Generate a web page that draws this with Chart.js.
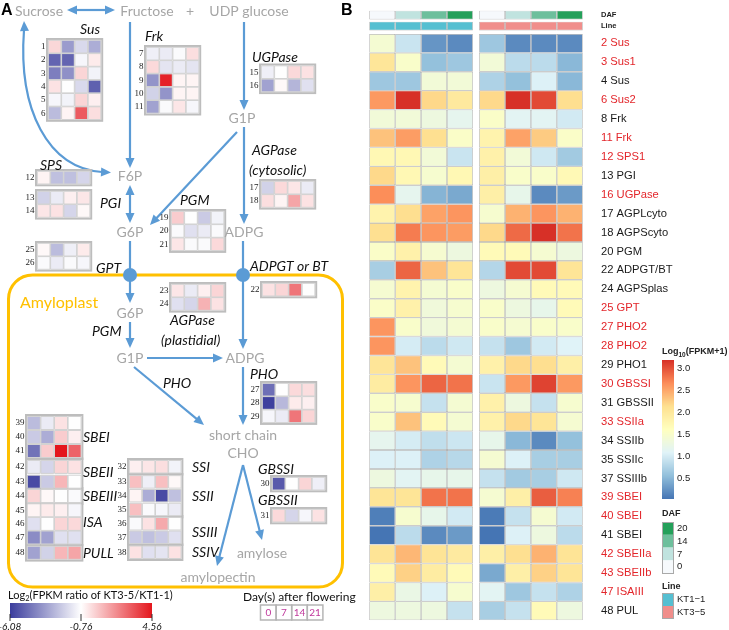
<!DOCTYPE html>
<html>
<head>
<meta charset="utf-8">
<script src="https://cdn.jsdelivr.net/npm/chart.js@4.4.0/dist/chart.umd.min.js"></script>
<style>
  html, body { margin: 0; padding: 0; background: #fff; }
  #wrap { position: relative; width: 729px; height: 630px; }
  #wrap canvas { position: absolute; left: 0; top: 0; }
</style>
</head>
<body>
<div id="wrap">
  <canvas id="pathway" width="729" height="630"></canvas>
  <canvas id="heat" width="729" height="630"></canvas>
</div>
<script>
// ---------- panel B data: log10(FPKM+1) ----------
const geneLabels = ['2 Sus', '3 Sus1', '4 Sus', '6 Sus2', '8 Frk', '11 Frk', '12 SPS1', '13 PGI',
  '16 UGPase', '17 AGPLcyto', '18 AGPScyto', '20 PGM', '22 ADPGT/BT', '24 AGPSplas', '25 GPT',
  '27 PHO2', '28 PHO2', '29 PHO1', '30 GBSSI', '31 GBSSII', '33 SSIIa', '34 SSIIb', '35 SSIIc',
  '37 SSIIIb', '39 SBEI', '40 SBEI', '41 SBEI', '42 SBEIIa', '43 SBEIIb', '47 ISAIII', '48 PUL'];
// 1 = label printed in red
const highlighted = [1,1,0,1,0,1,1,0,1,0,0,0,0,0,1,1,1,0,1,0,1,0,0,0,1,1,0,1,1,1,0];
const dafDays = [0, 7, 14, 21];
const dafLegendTicks = [20, 14, 7, 0];
const lineNames = ['KT1\u22121', 'KT3\u22125'];

// KT1-1, DAF 0 / 7 / 14 / 21
const kt1Values = [
  [1.42, 0.92, 0.25, 0.17], [2.03, 1.50, 0.57, 0.63], [0.63, 0.63, 1.38, 1.38], [2.58, 3.18, 2.18, 1.97],
  [1.37, 1.37, 1.30, 1.17], [2.32, 2.55, 2.12, 1.52], [1.72, 1.72, 1.38, 0.92], [2.17, 1.72, 1.45, 1.72],
  [2.65, 1.17, 0.47, 0.39], [1.80, 2.13, 2.52, 2.60], [2.12, 2.75, 2.60, 2.56], [1.52, 1.83, 1.44, 1.30],
  [0.70, 2.88, 2.32, 2.05], [1.43, 1.80, 1.42, 1.50], [1.52, 1.83, 1.35, 1.45], [2.60, 1.50, 1.35, 1.42],
  [2.60, 1.00, 0.83, 0.96], [2.04, 2.32, 1.68, 1.42], [1.93, 2.60, 2.88, 2.80], [1.50, 1.45, 0.89, 1.42],
  [1.50, 2.32, 1.68, 1.42], [1.17, 1.00, 0.86, 0.94], [1.05, 1.05, 0.74, 0.80], [1.30, 1.12, 1.20, 1.20],
  [2.05, 2.05, 2.80, 2.80], [0.09, 1.45, 1.20, 0.98], [0.02, 0.83, 0.17, 0.28], [2.06, 2.39, 2.06, 1.95],
  [1.68, 2.22, 1.93, 1.68], [1.87, 1.25, 1.05, 1.45], [1.30, 1.30, 1.30, 0.89]
];
// KT3-5, DAF 0 / 7 / 14 / 21
const kt3Values = [
  [0.63, 0.17, 0.17, 0.17], [1.38, 0.83, 0.83, 0.50], [0.74, 0.57, 1.05, 0.50], [2.17, 3.18, 3.03, 2.13],
  [1.52, 1.12, 1.12, 0.98], [1.80, 2.52, 2.26, 1.52], [1.83, 1.38, 0.96, 0.66], [1.87, 1.50, 1.50, 1.70],
  [1.87, 1.20, 0.17, 0.28], [1.45, 2.42, 2.60, 2.42], [2.17, 2.85, 3.18, 2.80], [1.68, 1.68, 1.43, 1.30],
  [0.78, 3.03, 3.03, 2.05], [1.30, 1.43, 1.68, 1.68], [1.50, 1.30, 1.20, 1.68], [1.50, 1.43, 1.50, 1.50],
  [0.89, 0.63, 0.98, 1.07], [1.83, 2.17, 2.13, 1.87], [0.92, 2.58, 3.07, 2.58], [1.83, 1.30, 0.89, 1.45],
  [1.83, 2.17, 2.05, 1.43], [1.20, 0.50, 0.17, 0.57], [1.43, 1.05, 0.70, 0.70], [0.89, 0.66, 0.70, 0.96],
  [1.43, 1.87, 2.92, 2.72], [0.06, 0.89, 1.43, 0.98], [0.02, 1.05, 1.30, 0.83], [1.87, 2.12, 2.42, 2.06],
  [0.39, 1.87, 2.22, 2.05], [1.12, 0.63, 0.89, 0.74], [0.70, 0.89, 1.68, 1.30]
];

// ---------- panel A data: log2(FPKM ratio KT3-5/KT1-1), genes 1..48, DAF 0 / 7 / 14 / 21 ----------
const ratioValues = [
  [0.15, -3.5, -1.8, -3.0], [-5.0, -5.0, -1.0, -0.3], [-4.3, -3.8, 0.2, -1.1], [-0.1, -0.8, -1.8, -5.1],
  [-1.0, -1.1, 0.2, -0.4], [-2.6, -0.5, 3.0, 0.0], [-1.2, -1.3, -0.9, 0.0], [0.1, -1.5, -1.3, -1.5],
  [-3.7, 4.3, -0.5, -0.5], [-2.0, -3.7, -0.5, -0.5], [-3.3, -0.9, -0.2, -1.0], [-0.5, -2.5, -2.5, -1.9],
  [-2.0, -1.3, -0.4, -0.2], [-0.2, -0.1, -1.9, -0.6], [-1.2, -0.8, 0.1, -0.1], [-3.3, -0.6, -2.8, -1.6],
  [-2.0, 0.1, -0.2, -1.3], [0.0, -0.5, 1.3, -0.1], [0.4, -0.8, -2.2, -1.1], [-0.9, -1.6, -1.3, -0.9],
  [-0.2, -0.9, -0.9, 0.1], [-0.1, 0.2, 2.4, -0.8], [-0.2, -1.3, -0.4, 0.2], [-1.6, -1.9, 1.0, -0.1],
  [-0.6, -2.6, -1.2, -0.3], [-0.9, -1.3, -0.9, -1.0], [-4.7, -0.8, 0.1, 0.0], [-6.0, -2.7, -0.3, -0.4],
  [-1.0, -1.3, 2.4, 0.2], [-5.3, -0.8, 0.2, -1.2], [0.1, -1.9, -1.0, -0.1], [-0.4, -0.2, 0.0, -1.1],
  [0.7, -1.2, 0.7, -0.6], [-0.5, -3.0, -5.7, -2.5], [0.7, -0.9, -1.0, -1.3], [-0.9, -0.1, 1.2, -0.8],
  [-2.2, -2.5, -2.2, -1.6], [-0.1, -1.6, -1.5, -0.1], [-2.6, -1.3, -0.1, -0.8], [-2.2, -3.0, 0.4, -0.4],
  [-4.6, 0.4, 4.56, 2.8], [-1.3, -1.9, 0.2, -0.1], [-5.7, -2.2, 0.9, -0.8], [0.2, -0.6, -0.8, -0.9],
  [-0.5, -0.3, -0.4, -1.0], [-1.6, -0.8, 0.2, 0.1], [-3.9, -3.3, -1.6, -1.6], [-3.3, -2.0, 0.9, 1.3]
];
const ratioTicks = [-6.08, -0.76, 4.56];
const heatTicks = [3.0, 2.5, 2.0, 1.5, 1.0, 0.5];

// ---------- colours ----------
const heatMin = 0.02, heatMax = 3.18;
const heatStops = ['#4575b4', '#91bfdb', '#e0f3f8', '#ffffbf', '#fee090', '#fc8d59', '#d73027'];
const ratioStops = ['#3b3d9d', '#ffffff', '#e4161d'];
const dafColors = ['#f6f9fc', '#c0e3df', '#6dbf9c', '#24a05a'];
const lineColors = ['#55bfd1', '#f08e8b'];
const BLUE = '#5b9bd5';
const GREY = '#a6a6a6';

function hexRgb(h) { return [1, 3, 5].map(i => parseInt(h.slice(i, i + 2), 16)); }
function ramp(stops, t) {
  t = Math.max(0, Math.min(1, t));
  const n = stops.length - 1;
  const k = Math.min(n - 1, Math.floor(t * n));
  const f = t * n - k;
  const a = hexRgb(stops[k]), b = hexRgb(stops[k + 1]);
  return 'rgb(' + a.map((v, i) => Math.round(v + (b[i] - v) * f)).join(',') + ')';
}
const heatColor = v => ramp(heatStops, (v - heatMin) / (heatMax - heatMin));
const ratioColor = v => ramp(ratioStops, (v - ratioTicks[0]) / (ratioTicks[2] - ratioTicks[0]));

// ================= panel A : pathway =================
// mini heatmap blocks: first gene id, number of rows, top-left corner, cell pitch
const blocks = [
  { first: 1, n: 6, x: 48, y: 40, dx: 13.3, dy: 13.3 },
  { first: 7, n: 5, x: 146, y: 47, dx: 13.3, dy: 13.3 },
  { first: 12, n: 1, x: 37, y: 171, dx: 13.3, dy: 13.3 },
  { first: 13, n: 2, x: 37, y: 191, dx: 13.3, dy: 13.3 },
  { first: 15, n: 2, x: 261, y: 65.5, dx: 13.3, dy: 13.3 },
  { first: 17, n: 2, x: 261, y: 181, dx: 13.3, dy: 13.3 },
  { first: 19, n: 3, x: 171, y: 211, dx: 13.3, dy: 13.3 },
  { first: 22, n: 1, x: 262, y: 283, dx: 13.3, dy: 13.3 },
  { first: 23, n: 2, x: 171, y: 284, dx: 13.3, dy: 13.3 },
  { first: 25, n: 2, x: 37, y: 243, dx: 13.3, dy: 13.3 },
  { first: 27, n: 3, x: 262, y: 383, dx: 13.3, dy: 13.3 },
  { first: 30, n: 1, x: 272, y: 477, dx: 13.3, dy: 13.3 },
  { first: 31, n: 1, x: 272, y: 509, dx: 13.3, dy: 13.3 },
  { first: 32, n: 1, x: 129, y: 460, dx: 13.1, dy: 13.5 },
  { first: 33, n: 3, x: 129, y: 475, dx: 13.1, dy: 13.8 },
  { first: 36, n: 2, x: 129, y: 517, dx: 13.1, dy: 13.5 },
  { first: 38, n: 1, x: 129, y: 545.5, dx: 13.1, dy: 13.5 },
  { first: 39, n: 3, x: 27, y: 416, dx: 13.6, dy: 14 },
  { first: 42, n: 2, x: 27, y: 459.5, dx: 13.6, dy: 14.8 },
  { first: 44, n: 1, x: 27, y: 489, dx: 13.6, dy: 14 },
  { first: 45, n: 3, x: 27, y: 503.5, dx: 13.6, dy: 13.6 },
  { first: 48, n: 1, x: 27, y: 546, dx: 13.6, dy: 13.6 }
];

const cellPoints = [], cellColors = [], cellRadius = [];
blocks.forEach(b => {
  for (let r = 0; r < b.n; r++) {
    ratioValues[b.first - 1 + r].forEach((v, c) => {
      cellPoints.push({ x: b.x + (c + 0.5) * b.dx, y: b.y + (r + 0.5) * b.dy });
      cellColors.push(ratioColor(v));
      cellRadius.push((Math.min(b.dx, b.dy) - 0.6) / Math.SQRT2);
    });
  }
});

const metLabels = [
  ['Sucrose', 39, 11], ['Fructose', 147, 11], ['+', 190, 11], ['UDP glucose', 249, 11],
  ['F6P', 130, 176], ['G6P', 130, 232], ['G1P', 242, 118], ['ADPG', 244, 232],
  ['G6P', 130, 313], ['G1P', 130, 358], ['ADPG', 245, 358], ['short chain', 243, 435],
  ['CHO', 243, 453], ['amylose', 262, 553], ['amylopectin', 218, 577]
];
const enzLabels = [
  ['Sus', 80, 29], ['Frk', 145, 36], ['UGPase', 252, 57], ['SPS', 40, 165], ['PGI', 100, 203],
  ['PGM', 180, 200], ['AGPase', 252, 150], ['(cytosolic)', 249, 170], ['GPT', 96, 268],
  ['ADPGT or BT', 250, 266], ['PGM', 92, 331], ['AGPase', 170, 320], ['(plastidial)', 161, 340],
  ['PHO', 163, 383], ['PHO', 250, 374], ['GBSSI', 258, 469], ['GBSSII', 258, 500],
  ['SBEI', 83, 437], ['SBEII', 83, 472], ['SBEIII', 83, 496], ['ISA', 83, 522], ['PULL', 83, 553],
  ['SSI', 192, 467], ['SSII', 192, 496], ['SSIII', 192, 532], ['SSIV', 192, 552]
];

function head(ctx, x, y, ang) {
  const L = 10, W = 4.5;
  ctx.beginPath();
  ctx.moveTo(x, y);
  ctx.lineTo(x - L * Math.cos(ang) + W * Math.sin(ang), y - L * Math.sin(ang) - W * Math.cos(ang));
  ctx.lineTo(x - L * Math.cos(ang) - W * Math.sin(ang), y - L * Math.sin(ang) + W * Math.cos(ang));
  ctx.closePath();
  ctx.fill();
}
function arrow(ctx, x1, y1, x2, y2, both) {
  const ang = Math.atan2(y2 - y1, x2 - x1);
  const c = Math.cos(ang) * 8, s = Math.sin(ang) * 8;
  ctx.beginPath();
  ctx.moveTo(both ? x1 + c : x1, both ? y1 + s : y1);
  ctx.lineTo(x2 - c, y2 - s);
  ctx.stroke();
  head(ctx, x2, y2, ang);
  if (both) head(ctx, x1, y1, ang + Math.PI);
}

const pathwayDecor = {
  id: 'pathwayDecor',
  beforeDatasetsDraw(chart) {
    const ctx = chart.ctx;
    ctx.save();
    // amyloplast
    ctx.strokeStyle = '#ffc000';
    ctx.lineWidth = 3;
    ctx.beginPath();
    ctx.roundRect(8.5, 275, 334, 312, 24);
    ctx.stroke();
    // arrows
    ctx.strokeStyle = BLUE; ctx.fillStyle = BLUE; ctx.lineWidth = 2.2;
    arrow(ctx, 67, 10, 115, 10, true);
    arrow(ctx, 130, 22, 130, 168);
    arrow(ctx, 244, 22, 244, 110);
    arrow(ctx, 237, 132, 150, 225);
    arrow(ctx, 244, 127, 244, 224);
    arrow(ctx, 130, 185, 130, 223, true);
    arrow(ctx, 130, 241, 130, 303);
    arrow(ctx, 243, 241, 243, 349);
    arrow(ctx, 130, 322, 130, 348);
    arrow(ctx, 147, 358, 223, 358);
    arrow(ctx, 134, 367, 204, 425);
    arrow(ctx, 243, 367, 243, 425);
    arrow(ctx, 243, 465, 262, 540);
    arrow(ctx, 243, 465, 217, 566);
    // curved sucrose <-> F6P
    ctx.beginPath();
    ctx.moveTo(24, 30);
    ctx.bezierCurveTo(18, 110, 48, 168, 102, 172);
    ctx.stroke();
    head(ctx, 24, 21, -Math.PI / 2 - 0.05);
    head(ctx, 111, 172.5, 0.05);
    // transporter dots
    [[130, 275], [243, 275]].forEach(([x, y]) => {
      ctx.beginPath(); ctx.arc(x, y, 7, 0, Math.PI * 2); ctx.fill();
    });
    // block frames and row numbers
    ctx.strokeStyle = '#bdbdbd'; ctx.lineWidth = 2;
    ctx.fillStyle = '#222';
    ctx.font = '9px "Liberation Serif"';
    ctx.textAlign = 'right'; ctx.textBaseline = 'middle';
    blocks.forEach(b => {
      ctx.strokeRect(b.x - 1, b.y - 1, 4 * b.dx + 2, b.n * b.dy + 2);
      for (let r = 0; r < b.n; r++) ctx.fillText(String(b.first + r), b.x - 2.5, b.y + (r + 0.5) * b.dy);
    });
    ctx.restore();
  },
  afterDatasetsDraw(chart) {
    const ctx = chart.ctx;
    ctx.save();
    ctx.textBaseline = 'middle';
    ctx.fillStyle = '#000';
    ctx.font = 'bold 16px "Liberation Sans"';
    ctx.textAlign = 'left';
    ctx.fillText('A', 1, 11);
    ctx.fillStyle = GREY;
    ctx.font = '14px Lato';
    ctx.textAlign = 'center';
    metLabels.forEach(([t, x, y]) => ctx.fillText(t, x, y));
    ctx.fillStyle = '#111';
    ctx.font = 'italic 14px Lato';
    ctx.textAlign = 'left';
    enzLabels.forEach(([t, x, y]) => ctx.fillText(t, x, y));
    ctx.fillStyle = '#ffc000';
    ctx.font = '16px Lato';
    ctx.fillText('Amyloplast', 20, 303);

    // ratio colour bar
    ctx.fillStyle = '#111';
    ctx.font = '11px Lato';
    let x = 8;
    ctx.fillText('Log', x, 595); x += ctx.measureText('Log').width;
    ctx.font = '7.5px Lato';
    ctx.fillText('2', x, 599); x += ctx.measureText('2').width;
    ctx.font = '11px Lato';
    ctx.fillText('(FPKM ratio of KT3-5/KT1-1)', x, 595);
    const g = ctx.createLinearGradient(10, 0, 152, 0);
    g.addColorStop(0, ratioStops[0]); g.addColorStop(0.5, ratioStops[1]); g.addColorStop(1, ratioStops[2]);
    ctx.fillStyle = g;
    ctx.fillRect(10, 603, 142, 15);
    ctx.strokeStyle = '#333'; ctx.lineWidth = 1;
    ctx.fillStyle = '#111';
    ctx.font = 'italic 10px Lato';
    ctx.textAlign = 'center';
    ratioTicks.forEach(v => {
      const px = 10 + (v - ratioTicks[0]) / (ratioTicks[2] - ratioTicks[0]) * 142;
      ctx.beginPath(); ctx.moveTo(px, 614); ctx.lineTo(px, 621); ctx.stroke();
      ctx.fillText(v.toFixed(2), px, 627);
    });

    // day boxes
    ctx.font = '12px Lato';
    ctx.textAlign = 'left';
    ctx.fillText('Day(s) after flowering', 243, 597);
    ctx.strokeStyle = '#b5b5b5'; ctx.lineWidth = 1.5;
    ctx.font = '10px Lato';
    ctx.textAlign = 'center';
    dafDays.forEach((d, i) => {
      ctx.strokeRect(260.5 + i * 15.6, 605, 15.6, 15);
      ctx.fillStyle = '#c0399c';
      ctx.fillText(String(d), 268.3 + i * 15.6, 613);
    });
    ctx.restore();
  }
};

new Chart(document.getElementById('pathway'), {
  type: 'scatter',
  data: {
    datasets: [{
      data: cellPoints,
      pointStyle: 'rect',
      pointRadius: cellRadius,
      pointHoverRadius: cellRadius,
      pointBackgroundColor: cellColors,
      pointBorderColor: '#d2d2d2',
      pointBorderWidth: 1
    }]
  },
  options: {
    responsive: false,
    animation: false,
    events: [],
    layout: { padding: 0, autoPadding: false },
    plugins: { legend: { display: false }, tooltip: { enabled: false } },
    scales: {
      x: { type: 'linear', min: 0, max: 729, display: false },
      y: { type: 'linear', min: 0, max: 630, reverse: true, display: false }
    }
  },
  plugins: [pathwayDecor]
});

// ================= panel B : heatmap =================
const groupGap = 0.24;
const colX = (g, c) => g * (4 + groupGap) + c + 0.5;
const colCenters = [0, 1].flatMap(g => dafDays.map((d, c) => colX(g, c)));

const heatDatasets = [];
geneLabels.forEach((name, r) => {
  const pts = [], cols = [];
  [kt1Values, kt3Values].forEach((vals, g) => {
    vals[r].forEach((v, c) => {
      pts.push({ x: colX(g, c), y: [r, r + 1] });
      cols.push(heatColor(v));
    });
  });
  heatDatasets.push({ label: name, data: pts, backgroundColor: cols });
});
// annotation rows: DAF and Line
heatDatasets.push({
  label: 'DAF',
  data: colCenters.map(x => ({ x, y: [-1.23, -0.76] })),
  backgroundColor: colCenters.map((x, i) => dafColors[i % 4])
});
heatDatasets.push({
  label: 'Line',
  data: colCenters.map(x => ({ x, y: [-0.65, -0.18] })),
  backgroundColor: colCenters.map((x, i) => lineColors[Math.floor(i / 4)])
});

const heatDecor = {
  id: 'heatDecor',
  afterDraw(chart) {
    const ctx = chart.ctx;
    const { y } = chart.scales;
    ctx.save();
    ctx.textBaseline = 'middle';
    ctx.textAlign = 'left';
    ctx.fillStyle = '#000';
    ctx.font = 'bold 16px "Liberation Sans"';
    ctx.fillText('B', 341, 11);
    const lx = chart.chartArea.right + 3;
    ctx.font = 'bold 7.5px "Liberation Sans"';
    ctx.fillStyle = '#222';
    ctx.fillText('DAF', lx, y.getPixelForValue(-0.99));
    ctx.fillText('Line', lx, y.getPixelForValue(-0.41));

    // log10 colour bar
    const bx = 662, top = 360, bot = 499;
    ctx.font = 'bold 9px "Liberation Sans"';
    let tx = bx;
    ctx.fillText('Log', tx, 352); tx += ctx.measureText('Log').width;
    ctx.font = 'bold 6.5px "Liberation Sans"';
    ctx.fillText('10', tx, 355); tx += ctx.measureText('10').width;
    ctx.font = 'bold 9px "Liberation Sans"';
    ctx.fillText('(FPKM+1)', tx, 352);
    for (let py = top; py < bot; py++) {
      ctx.fillStyle = heatColor(heatMin + (bot - py - 0.5) / (bot - top) * (heatMax - heatMin));
      ctx.fillRect(bx, py, 12, 1);
    }
    ctx.fillStyle = '#222';
    ctx.font = '9.5px "Liberation Sans"';
    heatTicks.forEach(v => {
      const py = bot - (v - heatMin) / (heatMax - heatMin) * (bot - top);
      ctx.fillText(v.toFixed(1), bx + 15, py);
    });

    // DAF legend
    ctx.font = 'bold 9px "Liberation Sans"';
    ctx.fillText('DAF', bx, 514);
    ctx.strokeStyle = '#a9a9a9'; ctx.lineWidth = 1;
    dafLegendTicks.forEach((d, i) => {
      ctx.fillStyle = dafColors[3 - i];
      ctx.fillRect(bx, 522 + i * 12.8, 12, 12.8);
      ctx.fillStyle = '#222';
      ctx.font = '9.5px "Liberation Sans"';
      ctx.fillText(String(d), bx + 15, 528.4 + i * 12.8);
    });
    ctx.strokeRect(bx + 0.5, 522.5, 11, 51);

    // Line legend
    ctx.font = 'bold 9px "Liberation Sans"';
    ctx.fillText('Line', bx, 587);
    lineNames.forEach((n, i) => {
      ctx.fillStyle = lineColors[i];
      ctx.fillRect(bx, 593 + i * 13, 12, 13);
      ctx.fillStyle = '#222';
      ctx.font = '9.5px "Liberation Sans"';
      ctx.fillText(n, bx + 15, 599.5 + i * 13);
    });
    ctx.strokeRect(bx + 0.5, 593.5, 11, 25);
    ctx.restore();
  }
};

new Chart(document.getElementById('heat'), {
  type: 'bar',
  data: { datasets: heatDatasets },
  options: {
    responsive: false,
    animation: false,
    events: [],
    layout: { padding: { left: 354, top: 5, bottom: 8, right: 0 } },
    plugins: { legend: { display: false }, tooltip: { enabled: false } },
    datasets: {
      bar: {
        grouped: false,
        barPercentage: 1,
        categoryPercentage: 1,
        borderColor: '#ababab',
        borderWidth: 0.7,
        borderSkipped: false,
        inflateAmount: 0
      }
    },
    scales: {
      x: {
        type: 'linear', min: 0, max: 8 + groupGap, display: false,
        afterBuildTicks: axis => { axis.ticks = colCenters.map(v => ({ value: v })); }
      },
      y: {
        type: 'linear', reverse: true, min: -1.28, max: geneLabels.length, position: 'right',
        grid: { display: false, drawTicks: false },
        border: { display: false },
        afterBuildTicks: axis => { axis.ticks = geneLabels.map((n, i) => ({ value: i + 0.5 })); },
        afterFit: axis => { axis.width = 131; },
        ticks: {
          autoSkip: false,
          padding: 3,
          font: { family: 'Liberation Sans', size: 11.2 },
          color: ctx => highlighted[ctx.index] ? '#e3262b' : '#1a1a1a',
          callback: (v, i) => geneLabels[i]
        }
      }
    }
  },
  plugins: [heatDecor]
});
</script>
</body>
</html>
